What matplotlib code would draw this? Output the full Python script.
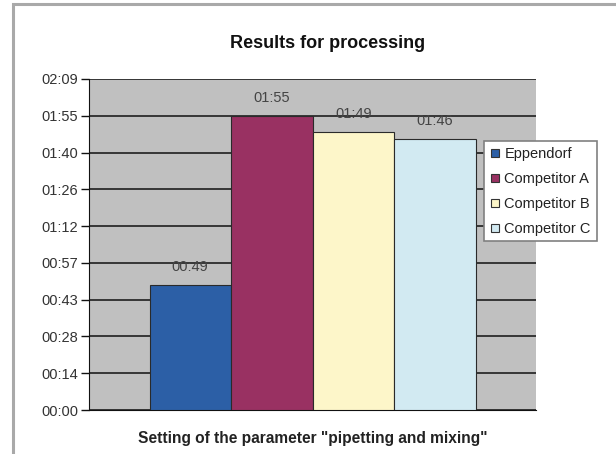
import matplotlib
matplotlib.use("Agg")
import matplotlib.pyplot as plt
from matplotlib.lines import Line2D
from matplotlib.patches import Rectangle

plt.rcParams["font.family"] = ["Liberation Sans", "DejaVu Sans"]

# data (seconds)
series = ["Eppendorf", "Competitor A", "Competitor B", "Competitor C"]
times_sec = [49, 115, 109, 106]
colors = ["#2c5fa6", "#993162", "#fdf6c9", "#d2eaf2"]
y_ticks = [0, 14.4, 28.8, 43.2, 57.6, 72.0, 86.4, 100.8, 115.2, 129.6]
y_tick_labels = ["00:00", "00:14", "00:28", "00:43", "00:57",
                 "01:12", "01:26", "01:40", "01:55", "02:09"]


def mmss(s):
    return f"{int(s) // 60:02d}:{int(s) % 60:02d}"


W, H = 616, 454
fig = plt.figure(figsize=(W / 100, H / 100), dpi=100)
fig.patch.set_facecolor("white")

# outer frame (only top and left visible)
fig.patches.append(Rectangle((13 / W, -0.05), 1.2, (H - 4) / H + 0.05,
                             transform=fig.transFigure, fill=False,
                             ec="#a9a9a9", lw=2.2))

ax = fig.add_axes([89 / W, (H - 410) / H, (536 - 89) / W, (410 - 79) / H])
ax.set_facecolor("#c0c0c0")

bar_w = 81.5 / (536 - 89)
n = len(series)
for i, (name, v, c) in enumerate(zip(series, times_sec, colors)):
    x = (i - (n - 1) / 2) * bar_w
    ax.bar(x, v, width=bar_w, color=c, edgecolor="#2a2a2a", linewidth=0.8,
           zorder=3)
    ax.annotate(mmss(v), (x, v), xytext=(0, 8), textcoords="offset points",
                ha="center", va="bottom", fontsize=10.5, color="#444444")

ax.set_xlim(-0.5, 0.5)
ax.set_ylim(0, 129.6)
ax.set_yticks(y_ticks)
ax.set_yticklabels(y_tick_labels, fontsize=10.5, color="#333333")
ax.set_xticks([])
ax.tick_params(axis="y", direction="out", length=6, width=1, color="#111111",
               pad=2)
ax.yaxis.grid(True, color="#1e1e1e", linewidth=1.2)
ax.set_axisbelow(True)
for s in ["top", "right"]:
    ax.spines[s].set_visible(False)
ax.spines["left"].set_color("#111111")
ax.spines["bottom"].set_color("#111111")
ax.spines["left"].set_zorder(4)

ax.set_xlabel('Setting of the parameter "pipetting and mixing"',
              fontsize=11.2, fontweight="bold", color="#222222", labelpad=15)
fig.text(328 / W, (H - 43) / H, "Results for processing", ha="center",
         va="center", fontsize=13, fontweight="bold", color="#111111")

handles = [Line2D([], [], marker="s", linestyle="none", markersize=5.5,
                  markerfacecolor=c, markeredgecolor="#333333",
                  markeredgewidth=0.8) for c in colors]
leg = fig.legend(handles, series, loc="upper left",
                 bbox_to_anchor=(484 / W, (H - 141) / H),
                 bbox_transform=fig.transFigure, fontsize=10.5,
                 frameon=True, fancybox=False, framealpha=1,
                 handlelength=0.7, handletextpad=0.3, labelspacing=0.75,
                 borderpad=0.4, borderaxespad=0)
leg.set_zorder(10)
leg.get_frame().set_edgecolor("#808080")
leg.get_frame().set_linewidth(1.2)
for t in leg.get_texts():
    t.set_color("#222222")

fig.savefig("out.png", dpi=100)
